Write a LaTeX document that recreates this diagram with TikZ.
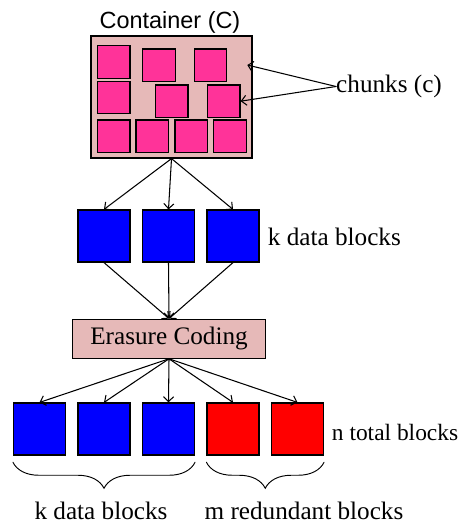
\documentclass[tikz,border=0pt]{standalone}
\usepackage{fontspec}
\setmainfont{Liberation Serif}
\newfontfamily\sansfont{Liberation Sans}
\usetikzlibrary{arrows.meta,decorations.pathreplacing}
\definecolor{fillBox}{RGB}{230,185,184}
\definecolor{fillChunk}{RGB}{255,51,153}

\begin{document}
\begin{tikzpicture}[x=0.3mm, y=-0.3mm, line cap=round,
  >={Straight Barb[length=1.5mm,width=3mm]},
  font=\fontsize{21.5}{25}\selectfont,
  conn/.style={->, line width=0.9pt},
  chunkbox/.style={draw, line width=1.1pt, fill=fillChunk, minimum size=9.8mm, inner sep=0pt},
  blockbox/.style={draw, line width=1pt, minimum size=15.6mm, inner sep=0pt},
  bracket/.style={decorate, decoration={brace, amplitude=7.8mm, mirror}, line width=0.8pt}]
\useasboundingbox (0,0) rectangle (470,523);
% 容器及其中的块
\node[draw, line width=1pt, fill=fillBox, minimum width=48.3mm, minimum height=36.6mm, inner sep=0pt] (cont) at (171.5,97) {};
\node[font=\sansfont\fontsize{20}{24}\selectfont] (contlbl) at (170,22) {Container (C)};
\foreach \name/\x/\y in {ca/113.7/62, cb/159/65.3, cc/210.5/65.3,
                         cd/113.7/97.5, ce/171.8/101.2, cf/223.7/101.2,
                         cg/113.7/136.2, ch/152.3/136.2, ci/191.3/136.2, cj/230/136.2}
  \node[chunkbox] (\name) at (\x,\y) {};
\node[anchor=west, inner sep=0pt] (chk) at (336,86.5) {chunks (c)};
\coordinate (chkend) at (247.3,65);
\draw[conn] (chk.west) -- (chkend);
\draw[conn] (chk.west) -- (cf.east);
% k 个数据块
\foreach \name/\x in {d1/104, d2/168.5, d3/233}
  \node[blockbox, fill=blue] (\name) at (\x,236) {};
\node[anchor=west, inner sep=0pt] (kdata) at (267.7,237) {k data blocks};
\foreach \name in {d1,d2,d3}
  \draw[conn] (cont.south) -- (\name.north);
% 编码
\node[draw, line width=1pt, fill=fillBox, minimum width=57.9mm, minimum height=11.7mm, inner sep=0pt] (ec) at (169,338.7) {Erasure Coding};
\foreach \name in {d1,d2,d3}
  \draw[conn] (\name.south) -- (ec.north);
% n 个输出块
\foreach \name/\x/\col in {b1/39.5/blue, b2/104/blue, b3/168.5/blue, b4/233/red, b5/297.5/red}
{
  \node[blockbox, fill=\col] (\name) at (\x,429) {};
  \draw[conn] (ec.south) -- (\name.north);
}
\node[anchor=west, inner sep=0pt, font=\fontsize{20}{24}\selectfont] (ntotal) at (331.7,432) {n total blocks};
% 括号与说明
\draw[bracket] ([yshift=-2mm]b1.south west) -- ([yshift=-2mm]b3.south east);
\draw[bracket] ([yshift=-2mm]b4.south west) -- ([yshift=-2mm]b5.south east);
\node[anchor=base, inner sep=0pt] (kbottom) at (101,519) {k data blocks};
\node[anchor=base, inner sep=0pt] (mbottom) at (304,519) {m redundant blocks};
\end{tikzpicture}
\end{document}
